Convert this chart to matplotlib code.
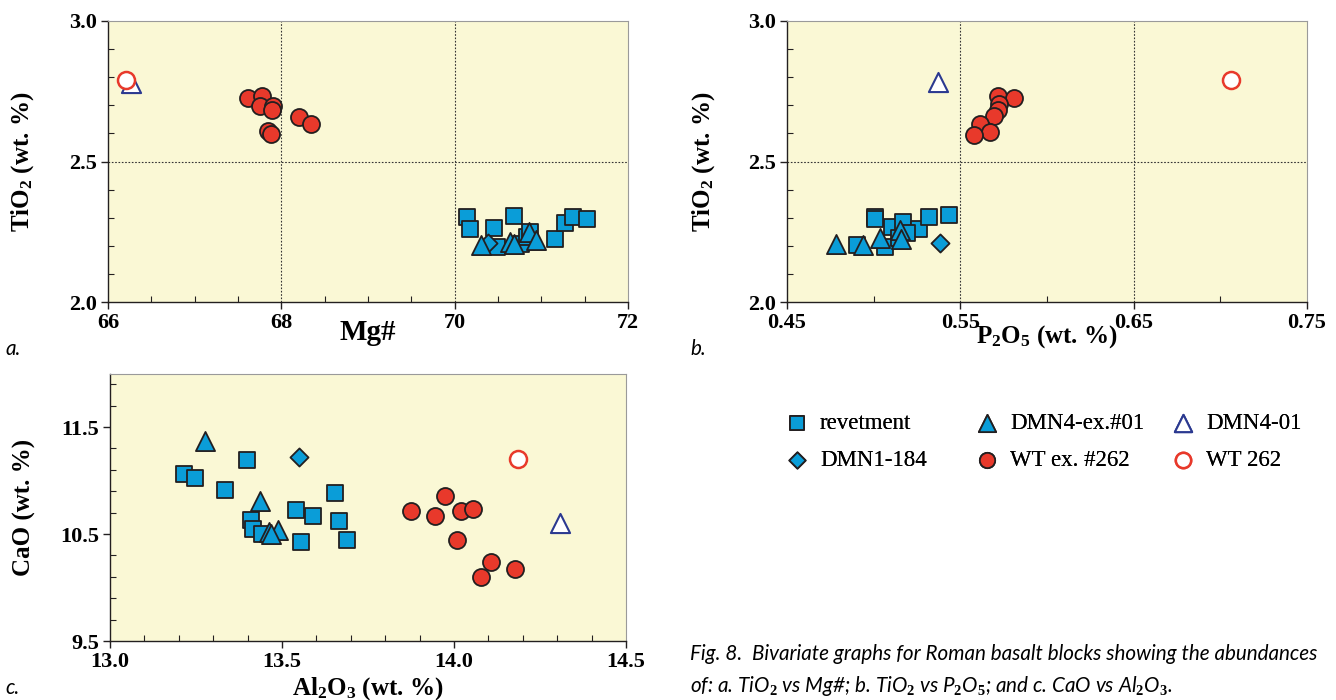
import matplotlib
matplotlib.use("Agg")
import matplotlib.pyplot as plt
from matplotlib.ticker import MultipleLocator

plt.rcParams['font.family'] = ['Liberation Serif', 'DejaVu Serif']
plt.rcParams['mathtext.fontset'] = 'custom'
plt.rcParams['mathtext.rm'] = 'Liberation Serif:bold'
plt.rcParams['mathtext.bf'] = 'Liberation Serif:bold'
plt.rcParams['mathtext.it'] = 'Lato:italic'

# ---- data ----
# panel a: TiO2 vs Mg#
a_rev_x = [70.14, 70.18, 70.45, 70.69, 70.49, 71.16, 71.27, 71.36, 71.53, 70.77, 70.83, 70.87]
a_rev_y = [2.303, 2.260, 2.263, 2.307, 2.196, 2.224, 2.281, 2.303, 2.296, 2.205, 2.230, 2.249]
a_dmn1_x = [70.39]
a_dmn1_y = [2.211]
a_dmn4ex_x = [70.30, 70.64, 70.68, 70.86, 70.94]
a_dmn4ex_y = [2.202, 2.212, 2.205, 2.248, 2.222]
a_wtex_x = [67.61, 67.78, 67.75, 67.90, 67.89, 68.20, 68.34, 67.85, 67.88]
a_wtex_y = [2.727, 2.732, 2.696, 2.699, 2.685, 2.658, 2.632, 2.609, 2.597]
a_dmn4_x = [66.27]
a_dmn4_y = [2.78]
a_wt_x = [66.21]
a_wt_y = [2.79]

# panel b: TiO2 vs P2O5
b_rev_x = [0.5006, 0.5006, 0.4902, 0.5068, 0.5106, 0.5172, 0.5147, 0.5261, 0.5320, 0.5434, 0.5195]
b_rev_y = [2.303, 2.297, 2.204, 2.196, 2.267, 2.285, 2.226, 2.261, 2.303, 2.308, 2.244]
b_dmn1_x = [0.538]
b_dmn1_y = [2.210]
b_dmn4ex_x = [0.4784, 0.4936, 0.5037, 0.5154, 0.5158]
b_dmn4ex_y = [2.205, 2.204, 2.226, 2.255, 2.223]
b_wtex_x = [0.5718, 0.5811, 0.5724, 0.5718, 0.5697, 0.5614, 0.5670, 0.5579]
b_wtex_y = [2.732, 2.726, 2.704, 2.682, 2.661, 2.632, 2.605, 2.596]
b_dmn4_x = [0.537]
b_dmn4_y = [2.783]
b_wt_x = [0.706]
b_wt_y = [2.789]

# panel c: CaO vs Al2O3
c_rev_x = [13.216, 13.248, 13.399, 13.333, 13.411, 13.416, 13.441, 13.542, 13.590, 13.654, 13.666, 13.555, 13.688]
c_rev_y = [11.064, 11.026, 11.195, 10.908, 10.628, 10.550, 10.503, 10.721, 10.665, 10.883, 10.621, 10.425, 10.441]
c_dmn1_x = [13.548]
c_dmn1_y = [11.220]
c_dmn4ex_x = [13.276, 13.436, 13.462, 13.489, 13.469]
c_dmn4ex_y = [11.366, 10.808, 10.519, 10.540, 10.503]
c_wtex_x = [13.876, 13.946, 13.973, 14.019, 14.056, 14.008, 14.109, 14.079, 14.176]
c_wtex_y = [10.712, 10.668, 10.858, 10.712, 10.734, 10.447, 10.235, 10.098, 10.176]
c_dmn4_x = [14.307]
c_dmn4_y = [10.603]
c_wt_x = [14.186]
c_wt_y = [11.204]

labels = ['revetment', 'DMN1-184', 'DMN4-ex.#01', 'WT ex. #262', 'DMN4-01', 'WT 262']

BLUE = '#0a9dd8'
RED = '#e8392b'
NAVY = '#2b3990'
EDGE = '#231f20'
BG = '#faf8d5'

styles = [
    dict(marker='s', s=142, facecolor=BLUE, edgecolor=EDGE, linewidths=1.3),
    dict(marker='D', s=85, facecolor=BLUE, edgecolor=EDGE, linewidths=1.3),
    dict(marker='^', s=190, facecolor=BLUE, edgecolor=EDGE, linewidths=1.3),
    dict(marker='o', s=150, facecolor=RED, edgecolor=EDGE, linewidths=1.3),
    dict(marker='^', s=190, facecolor='white', edgecolor=NAVY, linewidths=1.5),
    dict(marker='o', s=150, facecolor='white', edgecolor=RED, linewidths=1.8),
]


def draw_panel(ax, series):
  handles = []
  for (x, y), lab, st in zip(series, labels, styles):
    handles.append(ax.scatter(x, y, label=lab, zorder=3, **st))
  ax.set_facecolor(BG)
  for side in ['top', 'right']:
    ax.spines[side].set_color('#9a9a9a')
    ax.spines[side].set_linewidth(0.8)
  for side in ['left', 'bottom']:
    ax.spines[side].set_color(EDGE)
    ax.spines[side].set_linewidth(1.0)
  ax.tick_params(which='major', direction='out', length=5, width=1.0, color=EDGE,
                 labelsize=16, pad=3)
  ax.tick_params(which='minor', direction='in', length=4, width=0.8, color=EDGE)
  return handles


def grid_lines(ax, xs, ys):
  for v in xs:
    ax.axvline(v, color='#333333', lw=0.8, ls=(0, (1.5, 1.5)), zorder=1)
  for v in ys:
    ax.axhline(v, color='#333333', lw=0.8, ls=(0, (1.5, 1.5)), zorder=1)


fig = plt.figure(figsize=(13.36, 7.0), dpi=100)

# a.
ax_a = fig.add_axes([108/1336, 1 - 302/700, 520/1336, 281/700])
handles = draw_panel(ax_a, [(a_rev_x, a_rev_y), (a_dmn1_x, a_dmn1_y), (a_dmn4ex_x, a_dmn4ex_y),
                            (a_wtex_x, a_wtex_y), (a_dmn4_x, a_dmn4_y), (a_wt_x, a_wt_y)])
ax_a.set_xlim(66, 72)
ax_a.set_ylim(2.0, 3.0)
ax_a.xaxis.set_major_locator(MultipleLocator(2))
ax_a.xaxis.set_minor_locator(MultipleLocator(0.5))
ax_a.yaxis.set_major_locator(MultipleLocator(0.5))
ax_a.yaxis.set_minor_locator(MultipleLocator(0.1))
ax_a.set_xticklabels(['%d' % v for v in ax_a.get_xticks()], fontweight='bold')
ax_a.set_yticklabels(['%.1f' % v for v in ax_a.get_yticks()], fontweight='bold')
grid_lines(ax_a, [68, 70], [2.5])
ax_a.set_xlabel('Mg#', fontsize=21, fontweight='bold')
ax_a.set_ylabel(r'TiO$_\mathrm{2}$ (wt. %)', fontsize=18, fontweight='bold')
ax_a.xaxis.set_label_coords(0.5, -0.06)
ax_a.yaxis.set_label_coords(-0.138, 0.5)

# b.
ax_b = fig.add_axes([787/1336, 1 - 302/700, 520/1336, 281/700])
draw_panel(ax_b, [(b_rev_x, b_rev_y), (b_dmn1_x, b_dmn1_y), (b_dmn4ex_x, b_dmn4ex_y),
                  (b_wtex_x, b_wtex_y), (b_dmn4_x, b_dmn4_y), (b_wt_x, b_wt_y)])
ax_b.set_xlim(0.45, 0.75)
ax_b.set_ylim(2.0, 3.0)
ax_b.set_xticks([0.45, 0.55, 0.65, 0.75])
ax_b.xaxis.set_minor_locator(MultipleLocator(0.05))
ax_b.yaxis.set_major_locator(MultipleLocator(0.5))
ax_b.yaxis.set_minor_locator(MultipleLocator(0.1))
ax_b.set_xticklabels(['%.2f' % v for v in ax_b.get_xticks()], fontweight='bold')
ax_b.set_yticklabels(['%.1f' % v for v in ax_b.get_yticks()], fontweight='bold')
grid_lines(ax_b, [0.55, 0.65], [2.5])
ax_b.set_xlabel(r'P$_\mathrm{2}$O$_\mathrm{5}$ (wt. %)', fontsize=18, fontweight='bold')
ax_b.set_ylabel(r'TiO$_\mathrm{2}$ (wt. %)', fontsize=18, fontweight='bold')
ax_b.xaxis.set_label_coords(0.5, -0.075)
ax_b.yaxis.set_label_coords(-0.135, 0.5)

# c.
ax_c = fig.add_axes([110/1336, 1 - 641/700, 516/1336, 267.5/700])
draw_panel(ax_c, [(c_rev_x, c_rev_y), (c_dmn1_x, c_dmn1_y), (c_dmn4ex_x, c_dmn4ex_y),
                  (c_wtex_x, c_wtex_y), (c_dmn4_x, c_dmn4_y), (c_wt_x, c_wt_y)])
ax_c.set_xlim(13.0, 14.5)
ax_c.set_ylim(9.5, 12.0)
ax_c.xaxis.set_major_locator(MultipleLocator(0.5))
ax_c.xaxis.set_minor_locator(MultipleLocator(0.1))
ax_c.set_yticks([9.5, 10.5, 11.5])
ax_c.set_yticks([9.5 + 0.2 * i for i in range(13)], minor=True)
ax_c.set_xticklabels(['%.1f' % v for v in ax_c.get_xticks()], fontweight='bold')
ax_c.set_yticklabels(['%.1f' % v for v in ax_c.get_yticks()], fontweight='bold')
ax_c.set_xlabel(r'Al$_\mathrm{2}$O$_\mathrm{3}$ (wt. %)', fontsize=18, fontweight='bold')
ax_c.set_ylabel('CaO (wt. %)', fontsize=18, fontweight='bold')
ax_c.xaxis.set_label_coords(0.5, -0.127)
ax_c.yaxis.set_label_coords(-0.143, 0.5)

# legend: one small legend per column so the columns sit where the figure has them
leg_cols = [(0, 1, 785.5), (2, 3, 976), (4, 5, 1171.5)]
for i, j, x0 in leg_cols:
  leg = fig.legend([handles[i], handles[j]], [labels[i], labels[j]], ncol=1,
                   loc='upper left', bbox_to_anchor=(x0/1336, 1 - 413/700), frameon=False,
                   fontsize=16.5, handlelength=1.0, handletextpad=0.5,
                   labelspacing=0.69, borderpad=0, borderaxespad=0,
                   markerscale=0.9, scatterpoints=1)
  fig.add_artist(leg)

cap = dict(family=['Lato', 'DejaVu Sans'], style='italic', fontsize=14.9)
fig.text(5/1336, 1 - 349/700, 'a.', va='center', **cap)
fig.text(690/1336, 1 - 349/700, 'b.', va='center', **cap)
fig.text(5/1336, 1 - 688/700, 'c.', va='center', **cap)
fig.text(690/1336, 1 - 654/700,
         'Fig. 8.  Bivariate graphs for Roman basalt blocks showing the abundances',
         va='center', **cap)
fig.text(690/1336, 1 - 686/700,
         r'of: a. TiO$_\mathit{2}$ vs Mg#; b. TiO$_\mathit{2}$ vs P$_\mathit{2}$O$_\mathit{5}$; '
         r'and c. CaO vs Al$_\mathit{2}$O$_\mathit{3}$.',
         va='center', **cap)

fig.savefig('out.png', dpi=100)
